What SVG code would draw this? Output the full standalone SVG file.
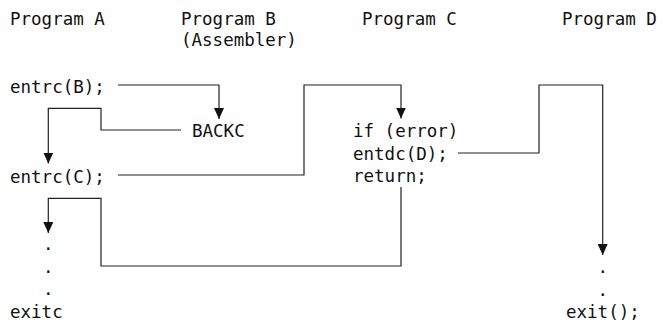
<svg xmlns="http://www.w3.org/2000/svg" width="663" height="324" viewBox="0 0 663 324">
<style>
text{font-family:"DejaVu Sans Mono","Liberation Mono",monospace;font-size:17.5px;fill:#111}
.c{fill:none;stroke:#222;stroke-width:1.2}
</style>
<defs>
<marker id="ah" markerUnits="userSpaceOnUse" markerWidth="11" markerHeight="10" refX="11" refY="5" orient="auto" viewBox="0 0 11 10">
<path d="M0,0 L11,5 L0,10 z" fill="#111"/>
</marker>
</defs>
<rect width="663" height="324" fill="#fff"/>
<g id="headers">
<text x="10" y="25">Program A</text>
<text x="181" y="25">Program B</text>
<text x="181" y="46">(Assembler)</text>
<text x="362" y="25">Program C</text>
<text x="562" y="25">Program D</text>
</g>
<g id="progA">
<text x="10" y="93">entrc(B);</text>
<text x="10" y="183">entrc(C);</text>
<text x="48.3" y="250" text-anchor="middle">.</text>
<text x="48.3" y="273" text-anchor="middle">.</text>
<text x="48.3" y="295" text-anchor="middle">.</text>
<text x="10" y="318">exitc</text>
</g>
<g id="progB">
<text x="192" y="137">BACKC</text>
</g>
<g id="progC">
<text x="353" y="137">if (error)</text>
<text x="353" y="159.5">entdc(D);</text>
<text x="353" y="182">return;</text>
</g>
<g id="progD">
<text x="602.7" y="273" text-anchor="middle">.</text>
<text x="602.7" y="296" text-anchor="middle">.</text>
<text x="566" y="318">exit();</text>
</g>
<g id="connectors">
<path class="c" d="M118,85 H219 V119" marker-end="url(#ah)"/>
<path class="c" d="M181,130 H101 V108.3 H48.3 V163.5" marker-end="url(#ah)"/>
<path class="c" d="M118,175 H304 V85 H401 V118.5" marker-end="url(#ah)"/>
<path class="c" d="M458,153 H539 V85 H602.7 V255" marker-end="url(#ah)"/>
<path class="c" d="M401,187 V266 H101 V198.3 H48.3 V233" marker-end="url(#ah)"/>
</g>
</svg>
